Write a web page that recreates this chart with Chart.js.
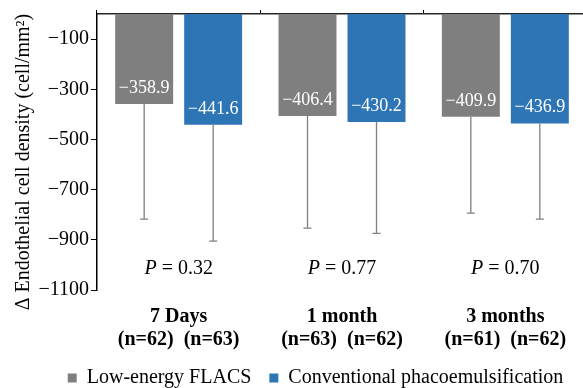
<!DOCTYPE html>
<html>
<head>
<meta charset="utf-8">
<script src="https://cdn.jsdelivr.net/npm/chart.js@4"></script>
<style>
html, body { margin: 0; padding: 0; background: #fff; overflow: hidden; }
#wrap { width: 631px; height: 398px; position: relative; }
</style>
</head>
<body>
<div id="wrap"><canvas id="c"></canvas></div>
<script>
const categories = [
    ["7 Days", "(n=62)  (n=63)"],
    ["1 month", "(n=63)  (n=62)"],
    ["3 months", "(n=61)  (n=62)"]
];
const flacsMean = [-358.9, -406.4, -409.9];
const flacsSd = [459, 447, 384];
const phacoMean = [-441.6, -430.2, -436.9];
const phacoSd = [464, 444, 381];
const pValues = ["0.32", "0.77", "0.70"];
const yTicks = [-100, -300, -500, -700, -900, -1100];

const serif = "\"Liberation Serif\", \"Times New Roman\", serif";
const minus = (v) => String(v).replace("-", "\u2212");

// error whiskers (lower side only) + white value labels inside bars
const barExtras = {
    id: "barExtras",
    afterDatasetsDraw(chart) {
        const ctx = chart.ctx;
        const y = chart.scales.y;
        chart.data.datasets.forEach((ds, i) => {
            const meta = chart.getDatasetMeta(i);
            meta.data.forEach((bar, j) => {
                const end = y.getPixelForValue(ds.data[j] - ds.sd[j]);
                ctx.save();
                ctx.strokeStyle = "#7f7f7f";
                ctx.lineWidth = 1.3;
                ctx.beginPath();
                ctx.moveTo(bar.x, bar.y);
                ctx.lineTo(bar.x, end);
                ctx.moveTo(bar.x - 4, end);
                ctx.lineTo(bar.x + 4, end);
                ctx.stroke();
                ctx.fillStyle = "#fff";
                ctx.font = "18px " + serif;
                ctx.textAlign = "center";
                ctx.textBaseline = "middle";
                ctx.fillText(minus(ds.data[j].toFixed(1)), bar.x, bar.y - 16);
                ctx.restore();
            });
        });
    }
};

// P values under each group
const pLabelY = -1017;
const pLabels = {
    id: "pLabels",
    afterDraw(chart) {
        const ctx = chart.ctx;
        const x = chart.scales.x;
        const yPx = chart.scales.y.getPixelForValue(pLabelY);
        ctx.save();
        ctx.fillStyle = "#000";
        ctx.textBaseline = "middle";
        ctx.textAlign = "left";
        pValues.forEach((p, i) => {
            const a = "P";
            const b = " = " + p;
            ctx.font = "italic 20px " + serif;
            const wa = ctx.measureText(a).width;
            ctx.font = "20px " + serif;
            const wb = ctx.measureText(b).width;
            const left = x.getPixelForValue(i) - (wa + wb) / 2;
            ctx.font = "italic 20px " + serif;
            ctx.fillText(a, left, yPx);
            ctx.font = "20px " + serif;
            ctx.fillText(b, left + wa, yPx);
        });
        ctx.restore();
    }
};

new Chart(document.getElementById("c"), {
    type: "bar",
    data: {
        labels: categories,
        datasets: [
            {
                label: "Low-energy FLACS",
                data: flacsMean,
                sd: flacsSd,
                backgroundColor: "#7f7f7f",
                borderWidth: 0
            },
            {
                label: "Conventional phacoemulsification",
                data: phacoMean,
                sd: phacoSd,
                backgroundColor: "#2e75b6",
                borderWidth: 0
            }
        ]
    },
    options: {
        responsive: true,
        maintainAspectRatio: false,
        animation: false,
        datasets: {
            bar: { categoryPercentage: 0.845, barPercentage: 0.84 }
        },
        layout: { padding: { top: 9, right: 0, left: 0, bottom: 0 } },
        scales: {
            x: {
                position: "bottom",
                grid: { display: false, drawTicks: false },
                border: { display: false },
                afterFit(scale) {
                    scale.height = 60;
                },
                ticks: {
                    padding: 15,
                    color: "#000",
                    font: { family: serif, size: 20, weight: "bold", lineHeight: 1.15 },
                    maxRotation: 0,
                    autoSkip: false
                }
            },
            x2: {
                type: "category",
                position: "top",
                offset: true,
                grid: { offset: true, drawOnChartArea: false, tickLength: 4, color: "#000", lineWidth: 1 },
                border: { display: true, color: "#262626", width: 1.5 },
                ticks: { display: false }
            },
            y: {
                min: -1100,
                max: 0,
                afterBuildTicks(scale) {
                    scale.ticks = yTicks.map((v) => ({ value: v }));
                },
                afterFit(scale) {
                    scale.width = 97;
                },
                grid: { drawOnChartArea: false, tickLength: 6, color: "#000" },
                border: { display: true, color: "#000", width: 1.5 },
                ticks: {
                    padding: 2,
                    color: "#000",
                    font: { family: serif, size: 20 },
                    callback: (v) => minus(v)
                },
                title: {
                    display: true,
                    // en spaces at the end nudge the centred title down a little
                    text: "\u0394 Endothelial cell density (cell/mm\u00b2)\u2002\u2002",
                    color: "#000",
                    font: { family: serif, size: 20 },
                    padding: { top: 12, bottom: 0 }
                }
            },
            // empty spacer on the right so the legend centres like the original
            y2: {
                type: "linear",
                position: "right",
                grid: { display: false },
                border: { display: false },
                ticks: { display: false },
                afterFit(scale) {
                    scale.width = 44;
                }
            }
        },
        plugins: {
            tooltip: { enabled: false },
            legend: {
                position: "bottom",
                labels: {
                    boxWidth: 9,
                    boxHeight: 9,
                    padding: 18,
                    color: "#000",
                    font: { family: serif, size: 20 }
                }
            }
        }
    },
    plugins: [barExtras, pLabels]
});
</script>
</body>
</html>
